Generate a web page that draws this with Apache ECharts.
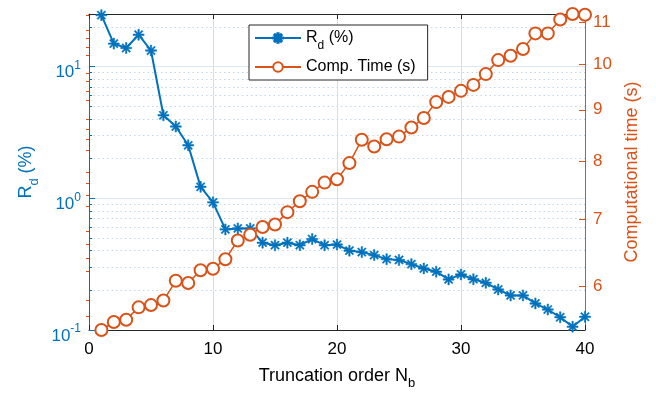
<!DOCTYPE html>
<html>
<head>
<meta charset="utf-8">
<script src="https://cdn.jsdelivr.net/npm/echarts@6/dist/echarts.min.js"></script>
<style>
html,body{margin:0;padding:0;background:#fff;}
#chart{width:656px;height:397px;}
</style>
</head>
<body>
<div id="chart"></div>
<script>
// ---- data ----
const truncOrder = [1,2,3,4,5,6,7,8,9,10,11,12,13,14,15,16,17,18,19,20,21,22,23,24,25,26,27,28,29,30,31,32,33,34,35,36,37,38,39,40];
const rdPercent = [24.5,14.9,13.8,17.4,13.2,4.26,3.5,2.52,1.22,0.93,0.58,0.59,0.59,0.46,0.44,0.46,0.44,0.49,0.44,0.445,0.40,0.39,0.37,0.345,0.34,0.316,0.293,0.277,0.242,0.264,0.243,0.228,0.203,0.183,0.183,0.159,0.143,0.125,0.106,0.126];
const compTime = [5.42,5.52,5.55,5.71,5.74,5.80,6.07,6.04,6.22,6.24,6.38,6.66,6.75,6.87,6.91,7.11,7.29,7.45,7.61,7.67,7.96,8.40,8.27,8.41,8.46,8.64,8.83,9.16,9.27,9.40,9.53,9.77,10.09,10.19,10.35,10.73,10.73,11.08,11.22,11.20];
const xTicks = [0,10,20,30,40];
const leftMajorTicks = [0.1,1,10];
const leftMinorTicks = [0.2,0.3,0.4,0.5,0.6,0.7,0.8,0.9,2,3,4,5,6,7,8,9,20];
const rightMajorTicks = [6,7,8,9,10,11];
const rightMinorTicks = [5.6,5.8,6.2,6.4,6.6,6.8,7.2,7.4,7.6,7.8,8.2,8.4,8.6,8.8,9.2,9.4,9.6,9.8,10.2,10.4,10.6,10.8,11.2];
const seriesNames = ['Rd', 'Comp'];

const BLUE = '#0072BD';
const ORANGE = '#D95319';
const DARK = '#262626';
const FONT = '"Liberation Sans", Arial, Helvetica, sans-serif';

const asterisk = 'path://M-1.3,-10L1.3,-10L1.3,10L-1.3,10Z M-10,-1.3L10,-1.3L10,1.3L-10,1.3Z M-8,-6.2L-6.2,-8L8,6.2L6.2,8Z M6.2,-8L8,-6.2L-6.2,8L-8,6.2Z';

const chart = echarts.init(document.getElementById('chart'), null, {renderer: 'canvas'});

function powLabel(v) {
  const e = Math.round(Math.log10(v));
  return '{b|10}{s|' + e + '}';
}

const option = {
  animation: false,
  backgroundColor: '#ffffff',
  textStyle: {fontFamily: FONT},
  grid: {left: 89, right: 71, top: 14, bottom: 67, containLabel: false},
  legend: {
    orient: 'vertical',
    left: 249, top: 25,
    data: seriesNames,
    backgroundColor: '#ffffff',
    borderColor: DARK, borderWidth: 1, borderRadius: 0,
    padding: [5, 12, 5, 5],
    itemWidth: 46, itemHeight: 12, itemGap: 7,
    formatter: function (name) {
      if (name === 'Rd') return '{a|R}{s|d}{a| (%)}';
      return '{a|Comp. Time (s)}';
    },
    textStyle: {
      fontFamily: FONT, fontSize: 16, color: '#000',
      rich: {
        a: {fontFamily: FONT, fontSize: 16, color: '#000', lineHeight: 28},
        s: {fontFamily: FONT, fontSize: 12, color: '#000', verticalAlign: 'bottom', lineHeight: 9}
      }
    }
  },
  xAxis: [{
    type: 'value', min: 0, max: 40, interval: 10, position: 'bottom',
    name: '{a|Truncation order N}{s|b}',
    nameLocation: 'middle', nameGap: 32,
    nameTextStyle: {
      rich: {
        a: {fontFamily: FONT, fontSize: 18, color: '#000', lineHeight: 28},
        s: {fontFamily: FONT, fontSize: 13, color: '#000', verticalAlign: 'bottom', lineHeight: 10}
      }
    },
    axisLine: {show: true, onZero: false, lineStyle: {color: DARK, width: 1}},
    axisTick: {show: true, inside: true, length: 5, lineStyle: {color: DARK}},
    axisLabel: {show: true, color: '#000', fontSize: 17, fontFamily: FONT, margin: 11, customValues: xTicks},
    splitLine: {show: true, lineStyle: {color: '#dcdcdc', width: 1}}
  }, {
    type: 'value', min: 0, max: 40, interval: 10, position: 'top',
    axisLine: {show: true, onZero: false, lineStyle: {color: DARK, width: 1}},
    axisTick: {show: true, inside: true, length: 5, lineStyle: {color: DARK}},
    axisLabel: {show: false},
    splitLine: {show: false}
  }],
  yAxis: [{
    type: 'log', logBase: 10, min: 0.1, max: 25, position: 'left',
    name: '{a|R}{s|d}{a| (%)}',
    nameLocation: 'middle', nameRotate: 90, nameGap: 48,
    nameTextStyle: {
      rich: {
        a: {fontFamily: FONT, fontSize: 18, color: BLUE, lineHeight: 28},
        s: {fontFamily: FONT, fontSize: 13, color: BLUE, verticalAlign: 'bottom', lineHeight: 10}
      }
    },
    axisLine: {show: true, onZero: false, lineStyle: {color: BLUE, width: 1}},
    axisTick: {show: true, inside: true, length: 6, lineStyle: {color: BLUE}, customValues: leftMajorTicks},
    axisLabel: {
      show: true, margin: 8, customValues: leftMajorTicks,
      formatter: powLabel, padding: [12, 0, 0, 0],
      rich: {
        b: {fontFamily: FONT, fontSize: 17, color: BLUE, lineHeight: 26},
        s: {fontFamily: FONT, fontSize: 12, color: BLUE, verticalAlign: 'top', lineHeight: 14}
      }
    },
    splitLine: {show: true, lineStyle: {color: '#dbe7f2', width: 1}}
  }, {
    type: 'log', logBase: 10, min: 0.1, max: 25, position: 'left',
    axisLine: {show: false},
    axisTick: {show: true, inside: true, length: 3, lineStyle: {color: BLUE}, customValues: leftMinorTicks},
    axisLabel: {show: false},
    splitLine: {show: true, lineStyle: {color: '#c3d7ea', width: 1, type: [1.5, 3]}}
  }, {
    type: 'log', logBase: 10, min: 5.42, max: 11.22, position: 'right',
    name: 'Computational time (s)',
    nameLocation: 'middle', nameRotate: 90, nameGap: 38,
    nameTextStyle: {fontFamily: FONT, fontSize: 18, color: ORANGE},
    axisLine: {show: true, onZero: false, lineStyle: {color: ORANGE, width: 1}},
    axisTick: {show: true, inside: true, length: 6, lineStyle: {color: ORANGE}, customValues: rightMajorTicks},
    axisLabel: {show: true, color: ORANGE, fontSize: 17, fontFamily: FONT, margin: 8, customValues: rightMajorTicks},
    splitLine: {show: false}
  }, {
    type: 'log', logBase: 10, min: 5.42, max: 11.22, position: 'right',
    axisLine: {show: false},
    axisTick: {show: true, inside: true, length: 3, lineStyle: {color: ORANGE}, customValues: rightMinorTicks},
    axisLabel: {show: false},
    splitLine: {show: false}
  }],
  series: [{
    name: 'Rd', type: 'line', xAxisIndex: 0, yAxisIndex: 0,
    data: truncOrder.map((x, i) => [x, rdPercent[i]]),
    clip: false,
    symbol: asterisk, symbolSize: 11,
    lineStyle: {color: BLUE, width: 2},
    itemStyle: {color: BLUE, borderColor: BLUE, borderWidth: 0.5},
    z: 3
  }, {
    name: 'Comp', type: 'line', xAxisIndex: 0, yAxisIndex: 2,
    data: truncOrder.map((x, i) => [x, compTime[i]]),
    clip: false,
    symbol: 'emptyCircle', symbolSize: 12,
    lineStyle: {color: ORANGE, width: 1.5},
    itemStyle: {color: ORANGE, borderColor: ORANGE, borderWidth: 1.5},
    z: 4
  }]
};
chart.setOption(option);
</script>
</body>
</html>
